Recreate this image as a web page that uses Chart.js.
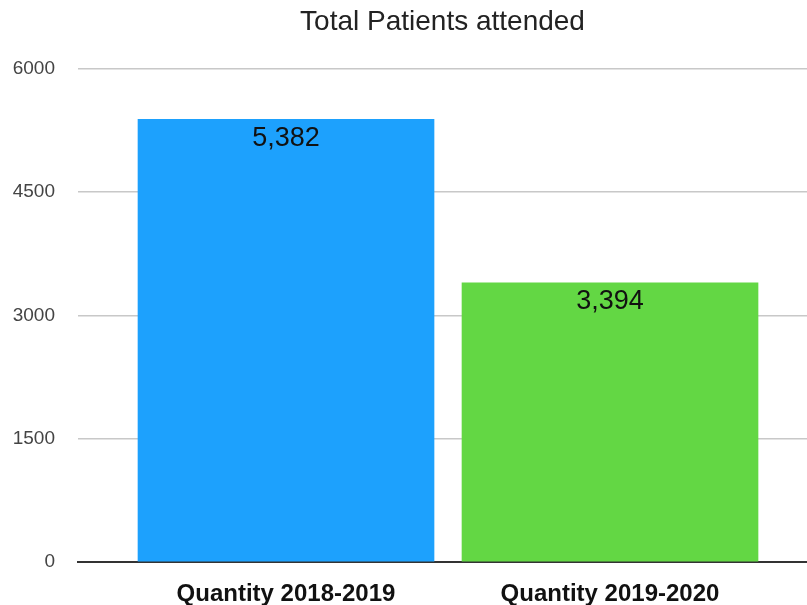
<!DOCTYPE html>
<html>
<head>
<meta charset="utf-8">
<script src="https://cdn.jsdelivr.net/npm/chart.js@4/dist/chart.umd.min.js"></script>
<style>
  html, body { margin: 0; padding: 0; background: #fff; }
  #wrap { width: 807px; height: 605px; }
</style>
</head>
<body>
<div id="wrap"><canvas id="chart"></canvas></div>
<script>
// ===== 数据 =====
var CATEGORIES = ['Quantity 2018-2019', 'Quantity 2019-2020'];
var PATIENTS = [5382, 3394];
var BAR_COLORS = ['#1da1fd', '#63d744'];
var Y_TICKS = [0, 1500, 3000, 4500, 6000];

var FONT = '"Liberation Sans", Arial, Helvetica, sans-serif';

// ===== 柱顶数值标签 =====
var valueLabels = {
  id: 'valueLabels',
  afterDatasetsDraw: function(chart) {
    var ctx = chart.ctx;
    var meta = chart.getDatasetMeta(0);
    ctx.save();
    ctx.font = '27px ' + FONT;
    ctx.fillStyle = '#111';
    ctx.textAlign = 'center';
    ctx.textBaseline = 'middle';
    meta.data.forEach(function(bar, i) {
      ctx.fillText(PATIENTS[i].toLocaleString('en-US'), bar.x, bar.y + 19);
    });
    ctx.restore();
  }
};

var points = PATIENTS.map(function(v, i) { return { x: i, y: v }; });

new Chart(document.getElementById('chart'), {
  type: 'bar',
  data: {
    datasets: [{
      label: 'Total Patients attended',
      data: points,
      backgroundColor: BAR_COLORS,
      borderWidth: 0,
      barThickness: 296
    }]
  },
  options: {
    responsive: true,
    maintainAspectRatio: false,
    animation: false,
    layout: { padding: { left: 0, right: 0, top: 0, bottom: 0 } },
    plugins: {
      legend: { display: false },
      tooltip: { enabled: false },
      title: {
        display: true,
        fullSize: false,
        text: 'Total Patients attended',
        color: '#222',
        font: { family: FONT, size: 28, weight: 'normal' },
        padding: { top: 5, bottom: 30 }
      }
    },
    scales: {
      x: {
        type: 'linear',
        offset: false,
        min: -0.642,
        max: 1.608,
        grid: { display: false, drawTicks: false, offset: false },
        border: { display: true, color: '#333', width: 2 },
        afterBuildTicks: function(scale) {
          scale.ticks = CATEGORIES.map(function(c, i) { return { value: i }; });
        },
        afterFit: function(scale) { scale.height = 43; },
        ticks: {
          autoSkip: false,
          maxRotation: 0,
          padding: 18,
          color: '#111',
          font: { family: FONT, size: 24, weight: 'bold' },
          callback: function(v) { return CATEGORIES[v] || ''; }
        }
      },
      y: {
        min: 0,
        max: 6000,
        afterBuildTicks: function(scale) {
          scale.ticks = Y_TICKS.map(function(v) { return { value: v }; });
        },
        afterFit: function(scale) { scale.width = 78; },
        grid: {
          drawTicks: false,
          color: function(c) { return c.tick && c.tick.value === 0 ? 'rgba(0,0,0,0)' : '#c8c8c8'; },
          lineWidth: 1.5
        },
        border: { display: false },
        ticks: {
          padding: 23,
          color: '#444',
          font: { family: FONT, size: 19 },
          callback: function(v) { return String(v); }
        }
      }
    }
  },
  plugins: [valueLabels]
});
</script>
</body>
</html>
